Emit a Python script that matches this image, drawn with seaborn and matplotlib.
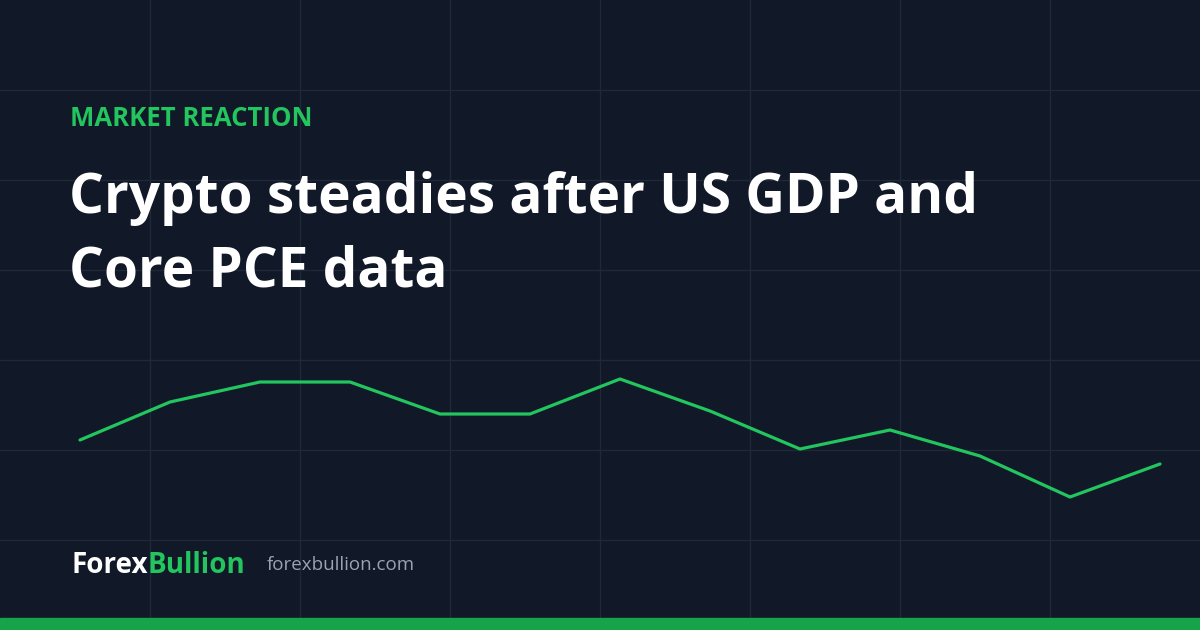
import matplotlib
matplotlib.use("Agg")
import matplotlib.pyplot as plt
import seaborn as sns
import pandas as pd

# price path, arbitrary index units
sessions = list(range(13))
price_index = [100, 138, 158, 158, 126, 126, 161, 129, 91, 110, 84, 43, 76]

kicker = "MARKET REACTION"
headline = ["Crypto steadies after US GDP and", "Core PCE data"]
brand_a = "Forex"
brand_b = "Bullion"
site = "forexbullion.com"

BG = "#111827"
GRID = "#1f2937"
GREEN = "#22c55e"
BAR = "#16a34a"

sns.set_theme(style="dark", rc={"axes.facecolor": BG, "figure.facecolor": BG})
plt.rcParams["font.family"] = ["Open Sans", "DejaVu Sans"]

df = pd.DataFrame({"session": sessions, "price": price_index})

fig = plt.figure(figsize=(12, 6.3), dpi=100)

# background grid layer
bg = fig.add_axes([0, 0, 1, 1])
bg.set_xlim(0, 1200)
bg.set_ylim(0, 630)
bg.set_xticks(range(150, 1200, 150))
bg.set_yticks(range(90, 630, 90))
bg.grid(True, color=GRID, linewidth=1)
bg.tick_params(length=0, labelbottom=False, labelleft=False)
for s in bg.spines.values():
    s.set_visible(False)
bg.axhspan(0, 12, color=BAR, zorder=5)

# price line layer
ax = fig.add_axes([0, 0, 1, 1])
ax.patch.set_alpha(0)
sns.lineplot(data=df, x="session", y="price", ax=ax, color=GREEN, linewidth=2.3)
ax.set_xlim(-80 / 90, 1120 / 90)
ax.set_ylim(-90, 540)
ax.set_axis_off()

fig.text(70 / 1200, 1 - 126 / 630, kicker, color=GREEN, fontsize=18.5,
         fontweight="bold", ha="left", va="baseline")
for i, line in enumerate(headline):
    fig.text(69 / 1200, 1 - (213 + 74 * i) / 630, line, color="white",
             fontsize=39.5, fontweight="bold", ha="left", va="baseline")

t1 = fig.text(71 / 1200, 1 - 573 / 630, brand_a, color="white", fontsize=20,
              fontweight="bold", ha="left", va="baseline")
ax.annotate(brand_b, xy=(1, 0), xycoords=t1, color=GREEN, fontsize=20,
            fontweight="bold", ha="left", va="bottom")
fig.text(267 / 1200, 1 - 570 / 630, site, color="#9ca3af", fontsize=13.5,
         ha="left", va="baseline")

fig.savefig("out.png", dpi=100, facecolor=BG)
